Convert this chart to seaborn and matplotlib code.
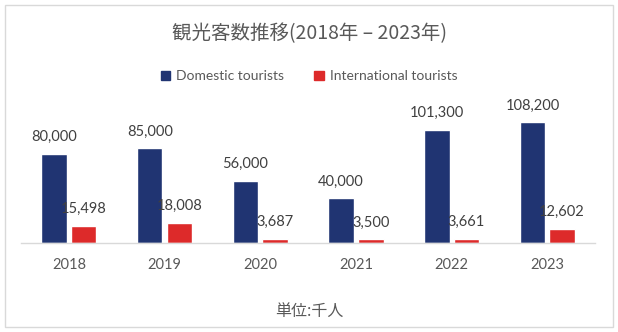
import matplotlib
matplotlib.use("Agg")
import matplotlib.pyplot as plt
import seaborn as sns
import pandas as pd
from matplotlib.patches import Rectangle

years = ["2018", "2019", "2020", "2021", "2022", "2023"]
domestic = [80000, 85000, 56000, 40000, 101300, 108200]
international = [15498, 18008, 3687, 3500, 3661, 12602]
series_names = ["Domestic tourists", "International tourists"]
colors = ["#203472", "#DD2A2A"]
title = "観光客数推移(2018年 – 2023年)"
unit_label = "単位:千人"

sns.set_theme(style="white")
plt.rcParams['font.family'] = ['Noto Sans CJK JP', 'DejaVu Sans']
LAT = ['Lato', 'DejaVu Sans']

df = pd.DataFrame({
    "year": years * 2,
    "value": domestic + international,
    "series": [series_names[0]] * len(years) + [series_names[1]] * len(years),
})

fig = plt.figure(figsize=(6.18, 3.32), dpi=100)
ax = fig.add_axes([0.034, 0.268, 0.929, 0.43])

sns.barplot(data=df, x="year", y="value", hue="series", palette=colors,
            width=0.62, gap=0.14, ax=ax, legend=False, saturation=1)

for cont in ax.containers:
    ax.bar_label(cont, labels=[f"{v:,.0f}" for v in cont.datavalues],
                 padding=7, fontsize=10.5, color="#404040", family=LAT)

ax.set_ylim(0, 128000)
ax.set_xlim(-0.5, 5.5)
ax.set_xlabel("")
ax.set_ylabel("")
ax.set_yticks([])
for s in ["top", "right", "left"]:
    ax.spines[s].set_visible(False)
ax.spines["bottom"].set_color("#D9D9D9")
ax.spines["bottom"].set_linewidth(1)
ax.tick_params(axis="x", length=0, pad=11, labelsize=10.5, labelcolor="#595959")
for t in ax.get_xticklabels():
    t.set_family(LAT)

fig.text(0.5, 0.9, title, ha="center", va="center", fontsize=14, color="#595959")
fig.text(0.5, 0.063, unit_label, ha="center", va="center", fontsize=11.5, color="#595959")

handles = [Rectangle((0, 0), 1, 1, color=c) for c in colors]
fig.legend(handles, series_names, loc="center", bbox_to_anchor=(0.5, 0.77), ncol=2,
           frameon=False, handlelength=0.7, handleheight=0.7, handletextpad=0.4,
           columnspacing=2.2, prop={"family": LAT, "size": 10},
           labelcolor="#595959")

fig.patches.append(Rectangle((0.008, 0.015), 0.984, 0.97, transform=fig.transFigure,
                             fill=False, edgecolor="#D9D9D9", linewidth=1))

fig.savefig("out.png", dpi=100)
